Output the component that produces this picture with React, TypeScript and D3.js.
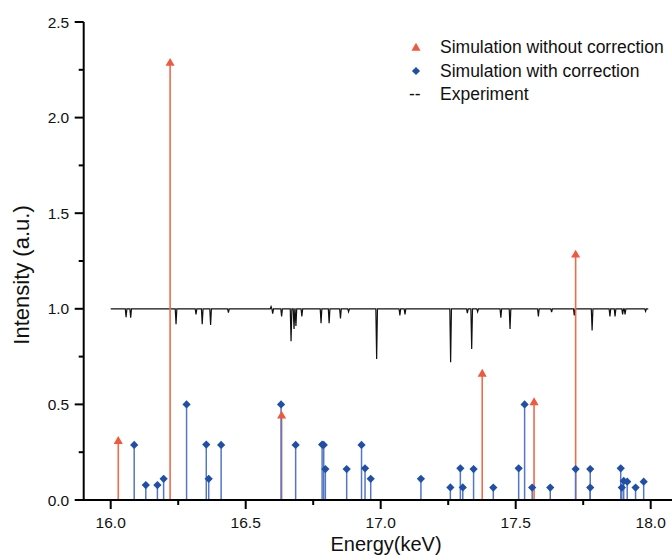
import React from "react";
import * as d3 from "d3";

// Simulation without correction (red triangles)
const redEnergy = [16.028, 16.22, 16.633, 17.376, 17.568, 17.722];
const redIntensity = [0.312, 2.29, 0.445, 0.664, 0.515, 1.287];

// Simulation with correction (blue diamonds)
const blueEnergy = [
  16.087, 16.13, 16.173, 16.196, 16.281, 16.354, 16.363, 16.409, 16.631, 16.685,
  16.783, 16.789, 16.795, 16.874, 16.929, 16.942, 16.963, 17.149, 17.258, 17.295,
  17.304, 17.344, 17.417, 17.511, 17.533, 17.561, 17.628, 17.722, 17.776, 17.776,
  17.889, 17.893, 17.9, 17.913, 17.944, 17.974,
];
const blueIntensity = [
  0.288, 0.078, 0.078, 0.111, 0.5, 0.29, 0.111, 0.288, 0.5, 0.288,
  0.29, 0.288, 0.162, 0.162, 0.288, 0.166, 0.111, 0.111, 0.066, 0.166,
  0.066, 0.162, 0.065, 0.166, 0.5, 0.065, 0.065, 0.162, 0.162, 0.065,
  0.166, 0.065, 0.1, 0.096, 0.065, 0.096,
];

// Experiment: baseline and absorption dips
const expStart = 16.0;
const expEnd = 17.991;
const expBaseline = 1.0;
const expDipEnergy = [
  16.057, 16.074, 16.242, 16.316, 16.339, 16.37, 16.436, 16.594, 16.6, 16.633,
  16.668, 16.679, 16.686, 16.708, 16.779, 16.809, 16.851, 16.881, 16.985, 17.071,
  17.09, 17.259, 17.321, 17.337, 17.359, 17.445, 17.479, 17.584, 17.633, 17.717,
  17.783, 17.849, 17.868, 17.896, 17.905, 17.981,
];
const expDipIntensity = [
  0.956, 0.953, 0.92, 0.97, 0.92, 0.916, 0.98, 1.012, 0.975, 0.96,
  0.83, 0.895, 0.91, 0.96, 0.925, 0.925, 0.95, 0.985, 0.738, 0.965,
  0.97, 0.72, 0.977, 0.79, 0.985, 0.953, 0.895, 0.96, 0.983, 0.965,
  0.887, 0.96, 0.96, 0.97, 0.97, 0.987,
];

const xMajorTicks = [16.0, 16.5, 17.0, 17.5, 18.0];
const xMinorTicks = [16.25, 16.75, 17.25, 17.75];
const yMajorTicks = [0.0, 0.5, 1.0, 1.5, 2.0, 2.5];
const yMinorTicks = [0.25, 0.75, 1.25, 1.75, 2.25];

const legendLabels = [
  "Simulation without correction",
  "Simulation with correction",
  "Experiment",
];

const W = 672;
const H = 555;
const FONT = "Arial, 'Liberation Sans', Helvetica, sans-serif";
const RED = "#ef5a3c";
const RED_STEM = "#f06a4c";
const BLUE = "#1f4fa6";
const BLUE_STEM = "#5576c4";

export default function App() {
  const x = d3.scaleLinear().domain([16, 18]).range([110.7, 650.7]);
  const y = d3.scaleLinear().domain([0, 2.5]).range([500, 22]);
  const axisX0 = x(15.9);
  const hw = 0.003;

  const expPts: [number, number][] = [[expStart, expBaseline]];
  expDipEnergy.forEach((e, i) => {
    expPts.push([e - hw, expBaseline]);
    expPts.push([e, expDipIntensity[i]]);
    expPts.push([e + hw, expBaseline]);
  });
  expPts.push([expEnd, expBaseline]);
  const line = d3
    .line<[number, number]>()
    .x((d) => x(d[0]))
    .y((d) => y(d[1]));

  const tri = d3.symbol().type(d3.symbolTriangle).size(36)();
  const dia = d3.symbol().type(d3.symbolSquare).size(34)();

  return (
    <svg
      width={W}
      height={H}
      style={{ position: "absolute", left: 0, top: 0, background: "#fff" }}
      fontFamily={FONT}
    >
      <rect x={0} y={0} width={W} height={H} fill="#fff" />
      {/* experiment */}
      <path d={line(expPts) || ""} fill="none" stroke="#111" strokeWidth={1.2} />

      {/* red stems */}
      {redEnergy.map((e, i) => (
        <line
          key={"rs" + i}
          x1={x(e)}
          x2={x(e)}
          y1={y(0)}
          y2={y(redIntensity[i])}
          stroke={RED_STEM}
          strokeWidth={1.6}
        />
      ))}
      {/* blue stems */}
      {blueEnergy.map((e, i) => (
        <line
          key={"bs" + i}
          x1={x(e)}
          x2={x(e)}
          y1={y(0)}
          y2={y(blueIntensity[i])}
          stroke={BLUE_STEM}
          strokeWidth={1.5}
        />
      ))}
      {redEnergy.map((e, i) => (
        <path
          key={"rt" + i}
          d={tri || ""}
          transform={`translate(${x(e)},${y(redIntensity[i]) + 1})`}
          fill={RED}
        />
      ))}
      {blueEnergy.map((e, i) => (
        <path
          key={"bd" + i}
          d={dia || ""}
          transform={`translate(${x(e)},${y(blueIntensity[i])}) rotate(45)`}
          fill={BLUE}
        />
      ))}

      {/* axes */}
      <line x1={axisX0} x2={W + 5} y1={y(0)} y2={y(0)} stroke="#000" strokeWidth={2} />
      <line x1={axisX0} x2={axisX0} y1={y(0) + 1} y2={y(2.5)} stroke="#000" strokeWidth={2} />
      {xMajorTicks.map((t) => (
        <g key={"xt" + t}>
          <line x1={x(t)} x2={x(t)} y1={y(0)} y2={y(0) + 9} stroke="#000" strokeWidth={2} />
          <text x={x(t)} y={528} textAnchor="middle" fontSize={15.5} fill="#111">
            {t.toFixed(1)}
          </text>
        </g>
      ))}
      {xMinorTicks.map((t) => (
        <line key={"xm" + t} x1={x(t)} x2={x(t)} y1={y(0)} y2={y(0) + 5} stroke="#000" strokeWidth={2} />
      ))}
      {yMajorTicks.map((t) => (
        <g key={"yt" + t}>
          <line x1={axisX0 - 9} x2={axisX0} y1={y(t)} y2={y(t)} stroke="#000" strokeWidth={2} />
          <text
            x={axisX0 - 14.5}
            y={y(t)}
            textAnchor="end"
            dominantBaseline="central"
            fontSize={15.5}
            fill="#111"
          >
            {t.toFixed(1)}
          </text>
        </g>
      ))}
      {yMinorTicks.map((t) => (
        <line key={"ym" + t} x1={axisX0 - 5} x2={axisX0} y1={y(t)} y2={y(t)} stroke="#000" strokeWidth={2} />
      ))}

      {/* axis titles */}
      <text x={386} y={551} textAnchor="middle" fontSize={20} fill="#111">
        Energy(keV)
      </text>
      <text
        transform={`translate(28.5,275) rotate(-90)`}
        textAnchor="middle"
        fontSize={22}
        fill="#111"
      >
        Intensity (a.u.)
      </text>

      {/* legend */}
      <g>
        <path d={tri || ""} transform="translate(416,48)" fill={RED} />
        <path d={dia || ""} transform="translate(416,71) rotate(45)" fill={BLUE} />
        <text x={409} y={93.5} dominantBaseline="central" fontSize={17.5} fill="#111">
          --
        </text>
        {legendLabels.map((l, i) => (
          <text
            key={l}
            x={440}
            y={[47.3, 71, 93.5][i]}
            dominantBaseline="central"
            fontSize={17.5}
            fill="#111"
          >
            {l}
          </text>
        ))}
      </g>
    </svg>
  );
}
